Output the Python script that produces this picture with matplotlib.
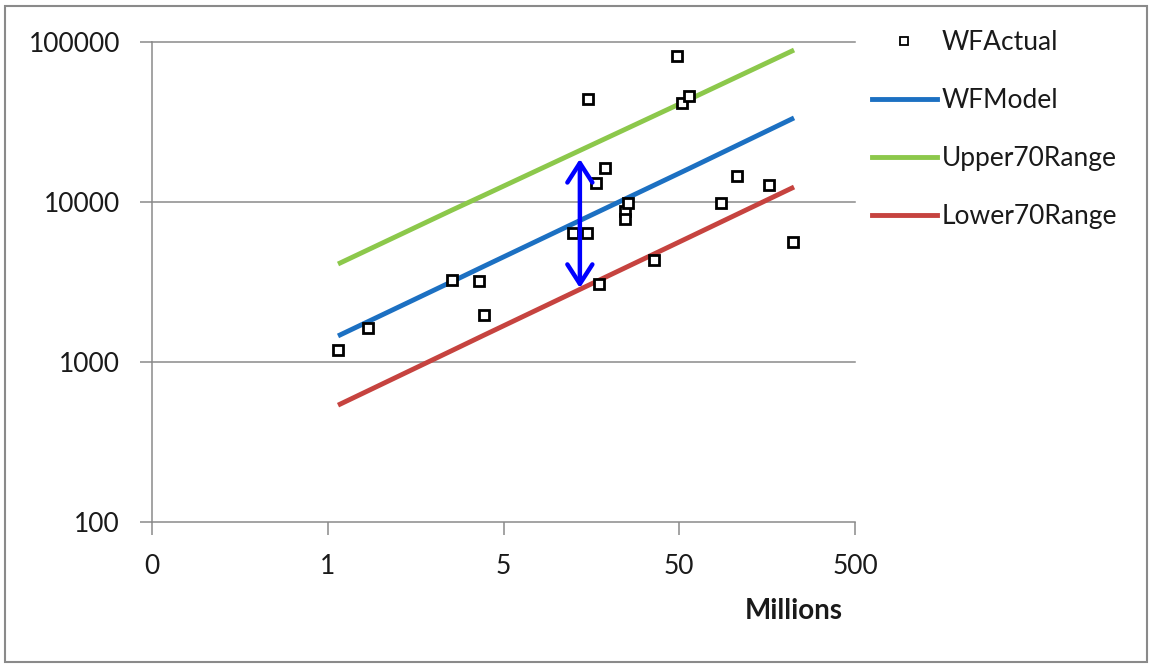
import matplotlib
matplotlib.use("Agg")
import matplotlib.pyplot as plt
from matplotlib.lines import Line2D
from matplotlib.patches import Rectangle

plt.rcParams['font.family'] = ['Lato', 'DejaVu Sans']

# Data (x in millions)
actual_x = [0.572, 0.847, 2.55, 3.63, 3.87, 12.4, 14.9, 15.1, 16.8, 17.5, 18.9,
            24.6, 24.6, 25.5, 35.9, 48.5, 51.8, 56.8, 86.4, 106.6, 162, 222]
actual_y = [1183, 1626, 3243, 3195, 1959, 6370, 6370, 43850, 13100, 3060, 16270,
            8740, 7800, 9810, 4330, 81500, 41400, 45800, 9810, 14490, 12710, 5600]

line_x = [0.572, 2.55, 3.87, 14.9, 56.8, 225]
model_y = [1449, 3170, 3950, 8000, 16100, 33400]
upper_y = [4080, 8870, 10970, 21900, 43500, 88700]
lower_y = [535, 1175, 1465, 2970, 5990, 12350]

arrow_x = 13.6
arrow_y = [18500, 2890]

x_ticks = [0.05, 0.5, 5, 50, 500]
x_labels = ["0", "1", "5", "50", "500"]
y_ticks = [100, 1000, 10000, 100000]
y_labels = ["100", "1000", "10000", "100000"]

W, H = 1151, 668
fig = plt.figure(figsize=(W / 100, H / 100), dpi=100)
ax = fig.add_axes([152 / W, 1 - 521.7 / H, (855 - 152) / W, (521.7 - 41.7) / H])

ax.set_xscale('log')
ax.set_yscale('log')
ax.set_xlim(0.05, 500)
ax.set_ylim(100, 100000)

grid_c = '#8a8a8a'
for yv in y_ticks[1:]:
    ax.axhline(yv, color=grid_c, lw=1.1, zorder=0, clip_on=False)

c_model = '#1C70C2'
c_upper = '#8CC84B'
c_lower = '#C6433F'
lw_line = 3.5

ax.plot(line_x, model_y, color=c_model, lw=lw_line, solid_capstyle='butt', zorder=2)
ax.plot(line_x, upper_y, color=c_upper, lw=lw_line, solid_capstyle='butt', zorder=2)
ax.plot(line_x, lower_y, color=c_lower, lw=lw_line, solid_capstyle='butt', zorder=2)
ax.plot(actual_x, actual_y, linestyle='none', marker='s', markersize=7.5,
        markerfacecolor='white', markeredgecolor='black', markeredgewidth=2.0, zorder=3)

ax.annotate('', xy=(arrow_x, arrow_y[0]), xytext=(arrow_x, arrow_y[1]),
            arrowprops=dict(arrowstyle='<->,head_length=0.7,head_width=0.45',
                            color='#0000FF', lw=3.2, mutation_scale=20,
                            shrinkA=0, shrinkB=0), zorder=4)

ax.set_xticks(x_ticks)
ax.set_xticklabels(x_labels)
ax.set_yticks(y_ticks)
ax.set_yticklabels(y_labels)
ax.minorticks_off()
ax.tick_params(axis='both', which='major', labelsize=19, colors=grid_c,
               labelcolor='#1a1a1a', length=9, width=1.1, direction='out')
ax.tick_params(axis='x', pad=14)
ax.tick_params(axis='y', pad=14)

for s in ['top', 'right']:
    ax.spines[s].set_visible(False)
for s in ['left', 'bottom']:
    ax.spines[s].set_color(grid_c)
    ax.spines[s].set_linewidth(1.1)

fig.text(794 / W, 1 - 611 / H, 'Millions', ha='center', va='center',
         fontsize=20, fontweight='bold', color='#1a1a1a')

handles = [
    Line2D([], [], linestyle='none', marker='s', markersize=6,
           markerfacecolor='white', markeredgecolor='black', markeredgewidth=1.3),
    Line2D([], [], color=c_model, lw=lw_line),
    Line2D([], [], color=c_upper, lw=lw_line),
    Line2D([], [], color=c_lower, lw=lw_line),
]
labels = ['WFActual', 'WFModel', 'Upper70Range', 'Lower70Range']
fig.legend(handles, labels, loc='upper left', bbox_to_anchor=(872 / W, 1 - 30 / H),
           frameon=False, fontsize=19, handlelength=2.45, handletextpad=0.2,
           labelspacing=1.25, borderaxespad=0, borderpad=0, labelcolor='#1a1a1a')

fig.patches.append(Rectangle((5 / W, 6 / H), (1147 - 5) / W, (662 - 6) / H,
                             transform=fig.transFigure, fill=False,
                             edgecolor='#8a8a8a', lw=1.5))

fig.savefig('out.png', dpi=100)
